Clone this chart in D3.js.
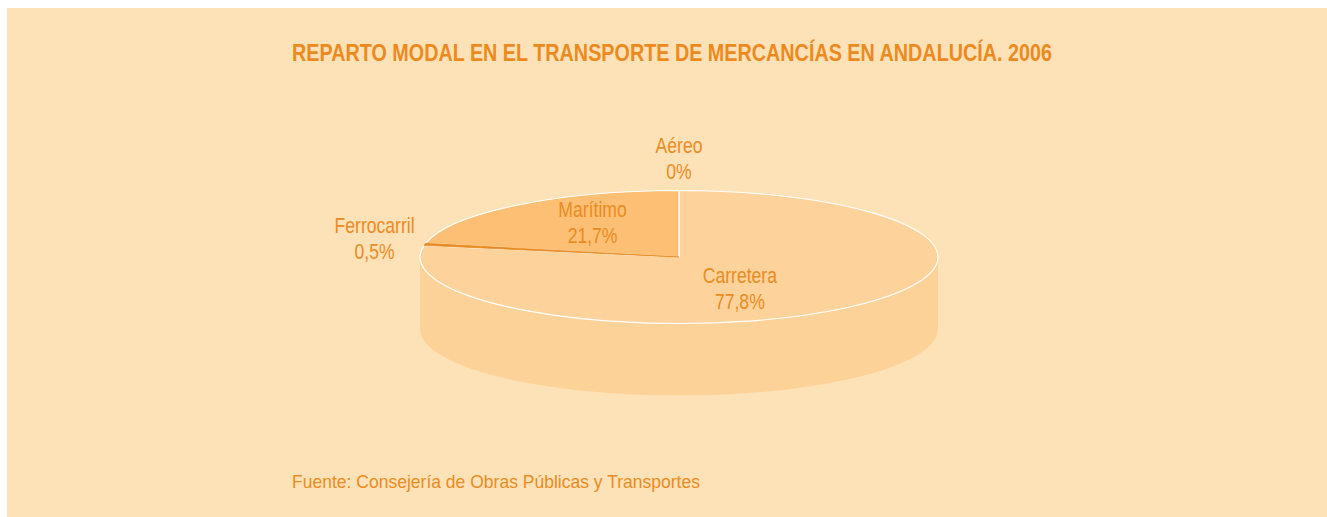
<!DOCTYPE html>
<html>
<head>
<meta charset="utf-8">
<script src="https://cdn.jsdelivr.net/npm/d3@7"></script>
<style>
  html, body { margin: 0; padding: 0; background: #ffffff; }
  svg text { font-family: "Liberation Sans", Arial, sans-serif; }
</style>
</head>
<body>
<div id="chart"></div>
<script>
// data, clockwise from 12 o'clock
const categories = ["Carretera", "Ferrocarril", "Marítimo", "Aéreo"];
const shares = [77.8, 0.5, 21.7, 0];
const shareLabels = ["77,8%", "0,5%", "21,7%", "0%"];
const labelInside = [true, false, true, false];
const titleText = "REPARTO MODAL EN EL TRANSPORTE DE MERCANCÍAS EN ANDALUCÍA. 2006";
const sourceText = "Fuente: Consejería de Obras Públicas y Transportes";

const width = 1327, height = 517;
const cfg = { cx: 679, cy: 257, rx: 259, ry: 66.5, depth: 72 };
const textColor = "#ea8c22";
const narrow = 0.8; // Arial Narrow look from Liberation Sans
// nudges for the inside labels, like the original's hand-placed ones
const insideNudge = { "Carretera": [-14, 8], "Marítimo": [-13, -12] };

const color = d3.scaleOrdinal()
    .domain(categories)
    .range(["#fdd39b", "#e98a1f", "#fcbf74", "#f7a84a"]);
const sideColor = d3.scaleOrdinal()
    .domain(categories)
    .range(["#fdd298", "#d87a14", "#f6b566", "#ee9c3c"]);

const svg = d3.select("#chart").append("svg")
    .attr("width", width)
    .attr("height", height);

svg.append("rect")
    .attr("x", 7).attr("y", 8)
    .attr("width", width - 7).attr("height", height - 8)
    .attr("fill", "#fde1b7");

svg.append("text")
    .attr("x", 292).attr("y", 61)
    .attr("font-size", 24).attr("font-weight", "bold")
    .attr("fill", "#ec8a1e")
    .attr("textLength", 760).attr("lengthAdjust", "spacingAndGlyphs")
    .text(titleText);

svg.append("text")
    .attr("x", 292).attr("y", 488)
    .attr("font-size", 19)
    .attr("fill", textColor)
    .attr("textLength", 408).attr("lengthAdjust", "spacingAndGlyphs")
    .text(sourceText);

const data = categories.map((c, i) => ({ name: c, value: shares[i], label: shareLabels[i], inside: labelInside[i] }));
const arcs = d3.pie().sort(null).value(d => d.value)(data);

// angle 0 at top, clockwise
const pt = (a, k = 1, dy = 0) => [cfg.cx + k * cfg.rx * Math.sin(a), cfg.cy - k * cfg.ry * Math.cos(a) + dy];

function topPath(d) {
    const p0 = pt(d.startAngle), p1 = pt(d.endAngle);
    const large = d.endAngle - d.startAngle > Math.PI ? 1 : 0;
    return `M${cfg.cx},${cfg.cy}L${p0}A${cfg.rx},${cfg.ry} 0 ${large} 1 ${p1}Z`;
}

function sidePath(d) {
    const a0 = Math.max(d.startAngle, Math.PI / 2);
    const a1 = Math.min(d.endAngle, Math.PI * 1.5);
    if (a1 <= a0) return null;
    const t0 = pt(a0), t1 = pt(a1), b0 = pt(a0, 1, cfg.depth), b1 = pt(a1, 1, cfg.depth);
    return `M${t0}A${cfg.rx},${cfg.ry} 0 0 1 ${t1}L${b1}A${cfg.rx},${cfg.ry} 0 0 0 ${b0}Z`;
}

const pie = svg.append("g");

pie.selectAll(".side")
    .data(arcs.filter(d => sidePath(d)))
    .join("path")
    .attr("class", "side")
    .attr("d", sidePath)
    .attr("fill", d => sideColor(d.data.name));

const slices = arcs.filter(d => d.value > 0);
pie.selectAll(".top")
    .data(slices)
    .join("path")
    .attr("class", "top")
    .attr("d", topPath)
    .attr("fill", d => color(d.data.name))
    .attr("stroke", "#ffffff")
    .attr("stroke-width", 1.2)
    .attr("stroke-linejoin", "round");

// very thin slices get redrawn on top so the white borders don't swallow them
pie.selectAll(".thin")
    .data(slices.filter(d => d.endAngle - d.startAngle < 0.05))
    .join("path")
    .attr("class", "thin")
    .attr("d", topPath)
    .attr("fill", d => color(d.data.name))
    .attr("stroke", d => color(d.data.name))
    .attr("stroke-width", 0.8);

// labels
const lineGap = 26.5, fontSize = 22;
const labels = svg.append("g")
    .attr("fill", textColor)
    .attr("font-size", fontSize)
    .attr("text-anchor", "middle");

arcs.forEach(d => {
    const mid = (d.startAngle + d.endAngle) / 2;
    const g = labels.append("g");
    const t = g.append("text");
    t.append("tspan").attr("x", 0).attr("y", 0).text(d.data.name);
    t.append("tspan").attr("x", 0).attr("y", lineGap).text(d.data.label);
    const w = t.node().getBBox().width * narrow;
    const h = lineGap + 16;
    let cx, cy;
    if (d.data.inside) {
        [cx, cy] = pt(mid, 0.45);
        const n = insideNudge[d.data.name] || [0, 0];
        cx += n[0];
        cy += n[1];
    } else {
        const e = pt(mid);
        const pad = 11;
        cx = e[0] + Math.sin(mid) * (pad + w / 2);
        cy = e[1] - Math.cos(mid) * (pad + h / 2);
    }
    // first baseline so the two-line block is centred on (cx, cy)
    const y0 = cy - lineGap / 2 + 8;
    g.attr("transform", `translate(${cx},${y0}) scale(${narrow},1)`);
});
</script>
</body>
</html>
